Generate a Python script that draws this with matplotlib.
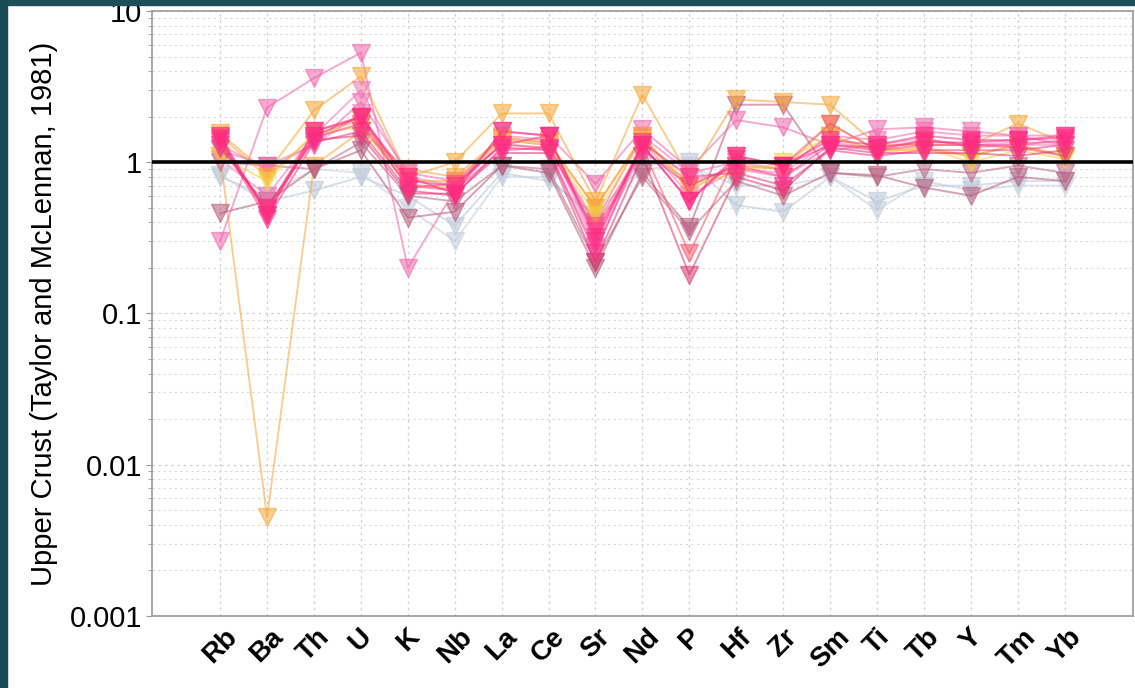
import matplotlib
matplotlib.use("Agg")
import matplotlib.pyplot as plt
from matplotlib.patches import Rectangle
from matplotlib.ticker import LogLocator, NullFormatter

plt.rcParams['font.family'] = ['Liberation Sans', 'DejaVu Sans']

## ## element order on the x axis
elements = ["Rb", "Ba", "Th", "U", "K", "Nb", "La", "Ce", "Sr", "Nd",
            "P", "Hf", "Zr", "Sm", "Ti", "Tb", "Y", "Tm", "Yb"]

## ## sample / upper crust ratios, one list per sample
s_orange_low = [1.1, 0.0045, 0.95, 1.6, 0.9, 0.8, 1.45, 1.35, 0.5, 1.45, 0.7, 0.95, 0.9, 1.5, 1.2, 1.25, 1.1, 1.3, 1.1]
s_orange_high = [1.55, 0.85, 2.2, 3.7, 0.8, 1.0, 2.1, 2.1, 0.55, 2.8, 0.8, 2.6, 2.5, 2.4, 1.3, 1.3, 1.3, 1.8, 1.35]
s_pink_high = [0.30, 2.3, 3.6, 5.3, 0.2, 0.65, 1.6, 1.5, 0.72, 1.65, 0.9, 1.9, 1.7, 1.3, 1.65, 1.7, 1.6, 1.5, 1.5]
s_mauve_a = [0.46, 0.55, 0.9, 1.2, 0.43, 0.47, 0.95, 0.85, 0.2, 0.85, 0.37, 2.4, 2.4, 0.85, 0.82, 0.68, 0.6, 0.8, 0.75]
s_mauve_b = [1.0, 0.95, 0.9, 1.35, 0.6, 0.55, 0.95, 0.9, 0.22, 0.8, 0.35, 0.75, 0.6, 0.85, 0.8, 0.9, 0.85, 0.95, 0.85]
s_grey_a = [0.82, 0.55, 0.65, 0.8, 0.6, 0.38, 0.85, 0.75, 0.45, 0.95, 1.0, 0.52, 0.47, 0.8, 0.55, 0.7, 0.7, 0.75, 0.75]
s_grey_b = [0.8, 0.6, 0.9, 0.85, 0.5, 0.3, 0.8, 0.8, 0.4, 0.9, 0.95, 0.7, 0.7, 0.8, 0.48, 0.75, 0.65, 0.7, 0.7]
s_hot_a = [1.45, 0.45, 1.6, 2.0, 0.75, 0.7, 1.3, 1.5, 0.3, 1.3, 0.55, 1.1, 0.95, 1.4, 1.3, 1.5, 1.4, 1.4, 1.5]
s_hot_b = [1.3, 0.5, 1.45, 1.8, 0.7, 0.65, 1.2, 1.25, 0.35, 1.2, 0.7, 0.95, 0.8, 1.3, 1.2, 1.3, 1.3, 1.3, 1.4]
s_hot_c = [1.4, 0.42, 1.35, 1.6, 0.65, 0.6, 1.25, 1.2, 0.25, 1.35, 0.8, 0.85, 0.7, 1.2, 1.1, 1.2, 1.2, 1.2, 1.3]
s_hot_d = [1.5, 0.45, 1.5, 2.0, 0.8, 0.62, 1.6, 1.5, 0.32, 1.3, 0.55, 1.05, 0.95, 1.3, 1.25, 1.35, 1.35, 1.4, 1.45]
s_pink_a = [1.2, 0.95, 1.3, 2.5, 0.85, 0.75, 1.4, 1.3, 0.4, 1.5, 0.85, 1.0, 0.9, 1.5, 1.4, 1.6, 1.5, 1.5, 1.3]
s_pink_b = [1.05, 0.6, 1.5, 3.0, 0.8, 0.7, 1.5, 1.4, 0.28, 1.4, 0.6, 0.9, 0.85, 1.35, 1.25, 1.4, 1.3, 1.35, 1.35]
s_pink_c = [1.3, 0.9, 1.3, 2.1, 0.72, 0.66, 1.35, 1.2, 0.27, 1.2, 0.75, 0.9, 0.8, 1.2, 1.3, 1.45, 1.25, 1.3, 1.3]
s_orange_b = [1.5, 0.8, 1.5, 1.9, 0.75, 0.75, 1.45, 1.35, 0.5, 1.5, 0.65, 0.95, 0.9, 1.8, 1.2, 1.2, 1.1, 1.3, 1.1]
s_yellow = [1.1, 0.75, 1.55, 1.7, 0.7, 0.68, 1.4, 1.3, 0.45, 1.4, 0.7, 0.85, 1.0, 1.5, 1.15, 1.25, 1.0, 1.2, 1.05]
s_salmon = [1.35, 0.48, 1.6, 1.95, 0.68, 0.72, 1.3, 1.25, 0.38, 1.25, 0.25, 1.1, 0.95, 1.8, 1.2, 1.4, 1.3, 1.25, 1.1]
s_darkpink = [1.25, 0.5, 1.4, 1.5, 0.62, 0.62, 1.15, 1.15, 0.22, 1.1, 0.18, 0.8, 0.65, 1.25, 1.15, 1.15, 1.15, 1.1, 1.2]

series = [
    (s_grey_a, "#b9c5d6"), (s_grey_b, "#c3cddb"),
    (s_orange_low, "#f6a63a"), (s_mauve_a, "#b5577a"), (s_mauve_b, "#bb6484"),
    (s_pink_high, "#f064aa"), (s_orange_high, "#f7a531"),
    (s_pink_a, "#f26aae"), (s_pink_b, "#f077b4"), (s_pink_c, "#f27ab7"),
    (s_orange_b, "#f8a53a"), (s_yellow, "#f6cf3c"),
    (s_salmon, "#f5566c"), (s_darkpink, "#d8386f"),
    (s_hot_a, "#ff2d87"), (s_hot_b, "#ff3a8e"), (s_hot_c, "#fb2f84"), (s_hot_d, "#ff2a80"),
]

fig = plt.figure(figsize=(11.35, 6.88), dpi=100)
ax = fig.add_axes([0.134, 0.105, 0.864, 0.879])

x = list(range(len(elements)))
for vals, col in series:
    ax.plot(x, vals, color=col, alpha=0.55, lw=1.4, marker="v", ms=13,
            mec=col, mfc=col)

ax.axhline(1, color="black", lw=2.6, zorder=5)

ax.set_yscale("log")
ax.set_ylim(0.001, 10)
ax.set_xlim(-1.45, 19.45)
ax.set_yticks([0.001, 0.01, 0.1, 1, 10])
ax.set_yticklabels(["0.001", "0.01", "0.1", "1", "10"], fontsize=21)
ax.yaxis.set_minor_locator(LogLocator(base=10, subs=range(2, 10)))
ax.yaxis.set_minor_formatter(NullFormatter())
ax.set_xticks(x)
ax.set_xticklabels(elements, rotation=45, ha="center", va="top",
                   fontsize=20, fontweight="bold")
ax.tick_params(axis="x", length=0, pad=6)
ax.tick_params(axis="y", which="major", length=4, color="#999999", pad=3)
ax.tick_params(axis="y", which="minor", length=3, color="#999999")

ax.grid(True, which="major", color="#cfcfcf", ls=(0, (2, 3)), lw=0.9)
ax.grid(True, which="minor", axis="y", color="#d8d8d8", ls=(0, (2, 3)), lw=0.8)
for s in ax.spines.values():
    s.set_color("#9a9a9a")
    s.set_linewidth(1.2)

ax.set_ylabel("Upper Crust (Taylor and McLennan, 1981)", fontsize=21)
ax.yaxis.set_label_coords(-0.096, 0.5)

## ## dark frame strips of the slide at top and left
fig.patches.append(Rectangle((0, 1 - 5 / 688), 1, 5 / 688, transform=fig.transFigure,
                             color="#1d4f5a", zorder=0))
fig.patches.append(Rectangle((0, 0), 7 / 1135, 1, transform=fig.transFigure,
                             color="#1b4a57", zorder=0))

fig.savefig("out.png", dpi=100)
